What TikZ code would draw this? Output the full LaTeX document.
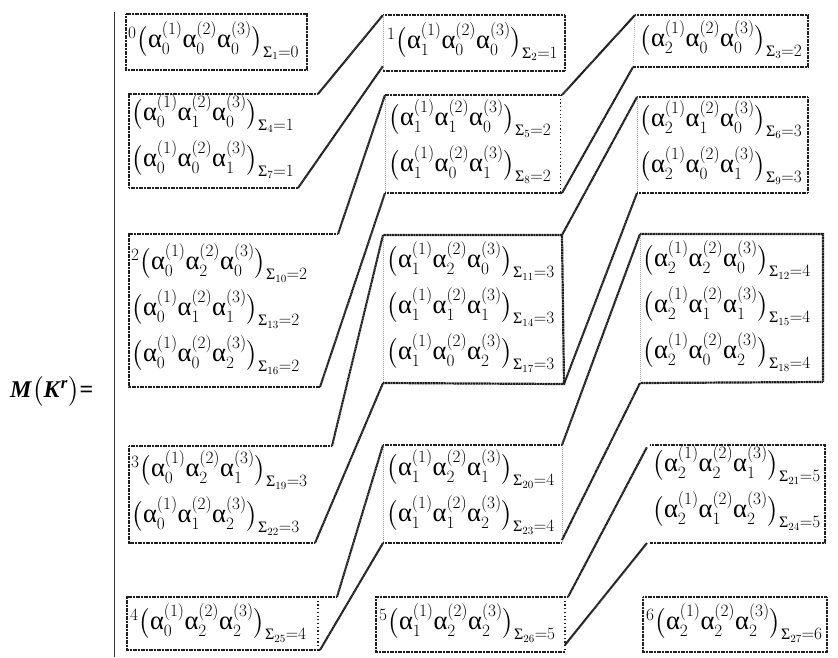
\documentclass[tikz,border=0pt]{standalone}
\usepackage{amsmath}
\usepackage{fontspec}
\setmainfont{Liberation Serif}
\DeclareMathSizes{26.5}{26.5}{15.9}{11.3}
\newcommand{\myal}[2]{\text{α}^{(#1)}_{#2}}
\newcommand{\mytri}[3]{\bigl(\myal{1}{#1}\myal{2}{#2}\myal{3}{#3}\bigr)}
\newcommand{\mysg}[2]{_{\text{Σ}_{#1}=#2}}
\newcommand{\mypre}[1]{{}^{#1}}
\newcommand{\myln}[5]{$\mypre{#1}\mytri{#2}{#3}{#4}#5$}
\begin{document}
\begin{tikzpicture}[x=1pt,y=-1pt,
  fr/.style={line width=2.2pt, dash pattern=on 1.2pt off 0.4pt, black!88},
  faint/.style={line width=0.6pt, dash pattern=on 1pt off 1pt, black!35},
  sparse/.style={line width=1.4pt, dash pattern=on 1.2pt off 2.5pt, black!88},
  conn/.style={line width=2.1pt, dash pattern=on 1.2pt off 0.4pt, black!88},
  txt/.style={anchor=west, inner sep=0pt, align=left, font=\fontsize{26.5}{46}\selectfont}]
\useasboundingbox (0,0) rectangle (838,657);
% left bar and title
\draw[line width=0.8pt, black!80] (114,12) -- (114,657);
\node[anchor=west, inner sep=0pt, font=\fontsize{24}{28}\selectfont] (title) at (10,391)
  {\textbf{\textit{M}}$\bigl($\textbf{\textit{K}}$^{\textbf{\textit{r}}}\bigr)$\textbf{=}};
% corner coordinates
\coordinate (A1tr) at (318,94);  \coordinate (A1br) at (298,188);
\coordinate (A2tr) at (338,234); \coordinate (A2br) at (320,387);
\coordinate (A3tr) at (332,446); \coordinate (A3br) at (315,543);
\coordinate (A4tr) at (337,597); \coordinate (A4br) at (320,650);
\coordinate (B0tl) at (383,15);  \coordinate (B0bl) at (383,66);
\coordinate (B1tl) at (385,95);  \coordinate (B1bl) at (385,193);
\coordinate (B1tr) at (562,95);  \coordinate (B1br) at (562,193);
\coordinate (B2tl) at (383,235); \coordinate (B2bl) at (383,383);
\coordinate (B2tr) at (562,235); \coordinate (B2br) at (564,384);
\coordinate (B3tl) at (383,445); \coordinate (B3bl) at (383,543);
\coordinate (B3tr) at (562,445); \coordinate (B3br) at (562,540);
\coordinate (B4tr) at (568,597); \coordinate (B4br) at (565,645);
\coordinate (C0tl) at (635,15);  \coordinate (C0bl) at (633,67);
\coordinate (C1tl) at (637,97);  \coordinate (C1bl) at (637,193);
\coordinate (C2tl) at (640,234); \coordinate (C2bl) at (640,383);
\coordinate (C3tl) at (647,447); \coordinate (C3bl) at (647,543);
% column A frames
\draw[fr] (126,14) rectangle (307,70);
\draw[fr] (A1tr) -- (129,94) -- (129,188) -- (A1br);
\draw[fr] (A2tr) -- (129,234) -- (129,387) -- (A2br);
\draw[fr] (A3tr) -- (129,446) -- (129,543) -- (A3br);
\draw[fr] (A4tr) -- (127,597) -- (127,650) -- (A4br);
\draw[sparse] (318,597) -- (318,650);
% column B frames
\draw[fr] (B0tl) -- (565,15) -- (565,71) -- (383,71);
\draw[faint] (383,15) -- (383,71);
\draw[fr] (B1tr) -- (B1tl);
\draw[faint] (B1tl) -- (B1bl);
\draw[fr] (B1bl) -- (B1br);
\draw[sparse, line width=0.9pt] (560,95) -- (560,193);
\draw[fr] (B2bl) -- (B2br) -- (B2tr) -- (B2tl);
\draw[faint] (B2tl) -- (B2bl);
\draw[fr] (B3tr) -- (B3tl);
\draw[faint] (B3tl) -- (B3bl);
\draw[fr] (B3bl) -- (562,543);
\draw[faint] (B3tr) -- (562,543);
\draw[fr] (B4tr) -- (376,597) -- (376,652) -- (565,652);
\draw[sparse] (565,597) -- (565,652);
% column C frames
\draw[fr] (C0tl) -- (808,15) -- (808,67) -- (C0bl);
\draw[faint] (C0tl) -- (C0bl);
\draw[fr] (C1tl) -- (808,97) -- (808,193) -- (C1bl);
\draw[faint] (C1tl) -- (C1bl);
\draw[fr] (C2tl) -- (823,234) -- (823,382) -- (C2bl);
\draw[faint] (C2tl) -- (C2bl);
\draw[fr] (650,445) -- (825,445) -- (825,543) -- (650,543);
\draw[fr] (643,597) rectangle (827,652);
% texts
\node[txt] (a0) at (128,41) {\myln{0}{0}{0}{0}{\mysg{1}{0}}};
\node[txt] (a1) at (131,137) {\myln{}{0}{1}{0}{\mysg{4}{1}}\\\myln{}{0}{0}{1}{\mysg{7}{1}}};
\node[txt] (a2) at (131,309) {\myln{2}{0}{2}{0}{\mysg{10}{2}}\\\myln{}{0}{1}{1}{\mysg{13}{2}}\\\myln{}{0}{0}{2}{\mysg{16}{2}}};
\node[txt] (a3) at (131,493) {\myln{3}{0}{2}{1}{\mysg{19}{3}}\\\myln{}{0}{1}{2}{\mysg{22}{3}}};
\node[txt] (a4) at (130,623) {\myln{4}{0}{2}{2}{\mysg{25}{4}}};
\node[txt] (b0) at (387,42) {\myln{1}{1}{0}{0}{\mysg{2}{1}}};
\node[txt] (b1) at (388,142) {\myln{}{1}{1}{0}{\mysg{5}{2}}\\\myln{}{1}{0}{1}{\mysg{8}{2}}};
\node[txt] (b2) at (386,307) {\myln{}{1}{2}{0}{\mysg{11}{3}}\\\myln{}{1}{1}{1}{\mysg{14}{3}}\\\myln{}{1}{0}{2}{\mysg{17}{3}}};
\node[txt] (b3) at (386,492) {\myln{}{1}{2}{1}{\mysg{20}{4}}\\\myln{}{1}{1}{2}{\mysg{23}{4}}};
\node[txt] (b4) at (379,623) {\myln{5}{1}{2}{2}{\mysg{26}{5}}};
\node[txt] (c0) at (639,40) {\myln{}{2}{0}{0}{\mysg{3}{2}}};
\node[txt] (c1) at (639,143) {\myln{}{2}{1}{0}{\mysg{6}{3}}\\\myln{}{2}{0}{1}{\mysg{9}{3}}};
\node[txt] (c2) at (642,306) {\myln{}{2}{2}{0}{\mysg{12}{4}}\\\myln{}{2}{1}{1}{\mysg{15}{4}}\\\myln{}{2}{0}{2}{\mysg{18}{4}}};
\node[txt] (c3) at (652,488) {\myln{}{2}{2}{1}{\mysg{21}{5}}\\\myln{}{2}{1}{2}{\mysg{24}{5}}};
\node[txt] (c4) at (646,623) {\myln{6}{2}{2}{2}{\mysg{27}{6}}};
% connectors
\draw[conn] (A1tr) -- (B0tl);
\draw[conn] (A1br) -- (B0bl);
\draw[conn] (A2tr) -- (B1tl);
\draw[conn] (A2br) -- (B1bl);
\draw[conn] (A3tr) -- (B2tl);
\draw[conn] (A3br) -- (B2bl);
\draw[conn] (A4tr) -- (B3tl);
\draw[conn] (A4br) -- (B3bl);
\draw[conn] (B1tr) -- (C0tl);
\draw[conn] (B1br) -- (C0bl);
\draw[conn] (B2tr) -- (C1tl);
\draw[conn] (B2br) -- (C1bl);
\draw[conn] (B3tr) -- (C2tl);
\draw[conn] (B3br) -- (C2bl);
\draw[conn] (B4tr) -- (C3tl);
\draw[conn] (B4br) -- (C3bl);
\end{tikzpicture}
\end{document}
